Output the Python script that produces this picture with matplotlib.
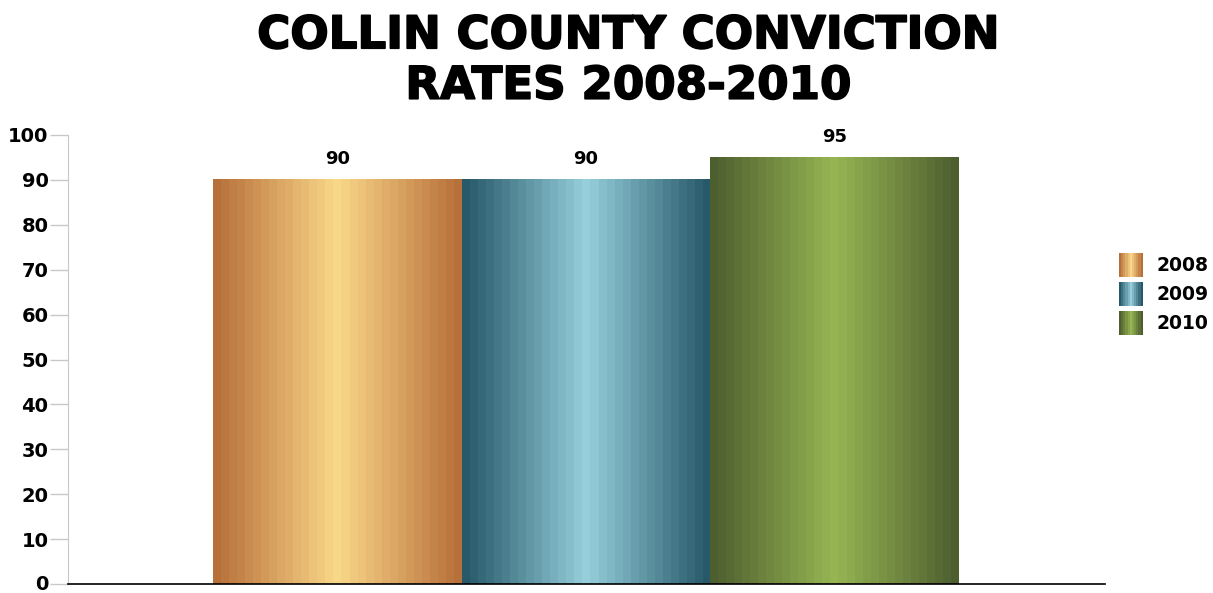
import numpy as np
import matplotlib
matplotlib.use("Agg")
import matplotlib.pyplot as plt
import matplotlib.patheffects as pe
from matplotlib.colors import LinearSegmentedColormap
from matplotlib.patches import Rectangle
from matplotlib.legend_handler import HandlerBase

# Data
years = ["2008", "2009", "2010"]
rates = [90, 90, 95]
title = "COLLIN COUNTY CONVICTION\nRATES 2008-2010"
yticks = [0, 10, 20, 30, 40, 50, 60, 70, 80, 90, 100]

# Edge / centre colours of each metallic gradient
edge_colors = ["#b8703a", "#27596a", "#4e5f2f"]
mid_colors = ["#fad88a", "#97cfdc", "#97b653"]

N_STEPS = 31


def stepped_colors(edge, mid, n=N_STEPS):
    cmap = LinearSegmentedColormap.from_list("g", [edge, mid, edge])
    return [cmap(v) for v in np.linspace(0, 1, n)]


class GradientHandler(HandlerBase):
    def __init__(self, edge, mid):
        super().__init__()
        self.edge, self.mid = edge, mid

    def create_artists(self, legend, orig_handle, xdescent, ydescent,
                       width, height, fontsize, trans):
        n = 11
        cols = stepped_colors(self.edge, self.mid, n)
        w = width / n
        arts = []
        for i, c in enumerate(cols):
            arts.append(Rectangle((-xdescent + i * w, -ydescent), w * 1.02, height,
                                  facecolor=c, edgecolor="none", transform=trans))
        return arts


plt.rcParams["font.family"] = ["DejaVu Sans"]
plt.rcParams["font.weight"] = "bold"

fig = plt.figure(figsize=(12.13, 5.93), dpi=100)
ax = fig.add_axes([68 / 1213, 9 / 593, (1105 - 68) / 1213, (584 - 135) / 593])

x = np.arange(len(years))
bars = ax.bar(x, rates, width=1.0, color="none", edgecolor="none")

for b, e, m, v in zip(bars, edge_colors, mid_colors, rates):
    cmap = LinearSegmentedColormap.from_list("g", stepped_colors(e, m), N=N_STEPS)
    grad = np.linspace(0, 1, N_STEPS).reshape(1, -1)
    x0, w, h = b.get_x(), b.get_width(), b.get_height()
    ax.imshow(grad, cmap=cmap, aspect="auto", interpolation="nearest",
              extent=(x0, x0 + w, 0, h), zorder=2)
    ax.text(x0 + w / 2, h + 2.6, f"{v}", ha="center", va="bottom",
            fontsize=13, fontweight="bold")

ax.set_xlim(-1.085, 3.09)
ax.set_ylim(0, 100)
ax.set_yticks(yticks)
ax.set_xticks([])
ax.tick_params(axis="y", labelsize=14, length=13, width=1, color="#c8c8c8", pad=1)
for lab in ax.get_yticklabels():
    lab.set_fontweight("bold")
# keep the bottom label's box inside the figure
ax.get_yticklabels()[0].set_verticalalignment("center")
ax.spines["top"].set_visible(False)
ax.spines["right"].set_visible(False)
ax.spines["left"].set_color("#c8c8c8")
ax.spines["bottom"].set_color("black")
ax.spines["bottom"].set_linewidth(1.2)
ax.spines["bottom"].set_zorder(3)

handles = [Rectangle((0, 0), 1, 1) for _ in years]
fig.legend(handles, years, loc="center left", bbox_to_anchor=(1119 / 1213, 1 - 294 / 593),
           frameon=False, handlelength=1.27, handleheight=1.58,
           handletextpad=0.75, labelspacing=0.28, borderaxespad=0, borderpad=0,
           handler_map={h: GradientHandler(e, m) for h, e, m in zip(handles, edge_colors, mid_colors)},
           prop={"weight": "bold", "size": 13.5})

fig.text(0.518, 1 - 61 / 593, title, ha="center", va="center", fontsize=32.5,
         fontweight="bold", linespacing=1.22,
         path_effects=[pe.withStroke(linewidth=1.2, foreground="black")])

fig.savefig("out.png", dpi=100)
